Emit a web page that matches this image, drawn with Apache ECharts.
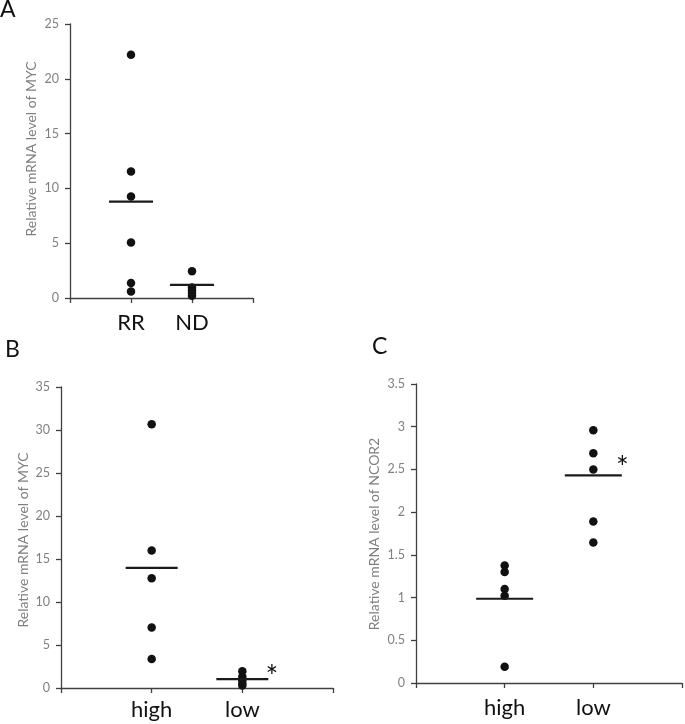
<!DOCTYPE html>
<html><head><meta charset="utf-8">
<script src="https://cdn.jsdelivr.net/npm/echarts@6/dist/echarts.min.js"></script>
<style>html,body{margin:0;padding:0;background:#fff}#c{width:685px;height:724px}</style>
</head><body><div id="c"></div>
<script>
// Panel A
const catsA = ['RR', 'ND'];
const rrA = [22.2, 11.55, 9.27, 5.07, 1.37, 0.6];
const ndA = [2.45, 0.95, 0.7, 0.45, 0.2];
const meanA = [8.79, 1.19];
// Panel B
const catsB = ['high', 'low'];
const highB = [30.66, 16.0, 12.76, 7.03, 3.36];
const lowB = [1.95, 1.3, 0.9, 0.55, 0.3];
const meanB = [13.96, 1.04];
// Panel C
const catsC = ['high', 'low'];
const highC = [1.375, 1.30, 1.10, 1.02, 0.19];
const lowC = [2.96, 2.69, 2.50, 1.89, 1.645];
const meanC = [0.986, 2.43];

const FONT = 'Lato, "Open Sans", sans-serif';
const axisCol = '#404040';
const gray = '#7f7f7f';
const dotCol = '#111';

const grids = [
  {left: 70, top: 24, width: 183, height: 274},
  {left: 61, top: 387, width: 272, height: 301},
  {left: 416, top: 384, width: 268, height: 299}
];

function xAxis(i, cats, margin) {
  return {
    type: 'value', gridIndex: i, min: 0, max: 3, interval: 1,
    splitLine: {show: false},
    axisLine: {show: true, onZero: false, lineStyle: {color: axisCol, width: 1.3}},
    axisTick: {show: true, inside: false, length: 5, lineStyle: {color: axisCol, width: 1.3}},
    axisLabel: {
      margin: margin, fontFamily: FONT, fontSize: 22, color: '#111',
      formatter: v => (v >= 1 && v <= cats.length) ? cats[v - 1] : ''
    }
  };
}
function yAxis(i, max, interval, fmt) {
  return {
    type: 'value', gridIndex: i, min: 0, max: max, interval: interval,
    splitLine: {show: false},
    axisLine: {show: true, lineStyle: {color: axisCol, width: 1.3}},
    axisTick: {show: true, length: 5, lineStyle: {color: axisCol, width: 1.3}},
    axisLabel: {margin: 11, fontFamily: FONT, fontSize: 12.5, color: gray, formatter: fmt}
  };
}
function dots(i, xv, vals) {
  return {
    type: 'scatter', xAxisIndex: i, yAxisIndex: i, symbol: 'circle', symbolSize: 8.5,
    itemStyle: {color: dotCol, opacity: 1}, silent: true, z: 3,
    data: vals.map(v => [xv, v])
  };
}
function means(i, m, w) {
  return {
    type: 'scatter', xAxisIndex: i, yAxisIndex: i, symbol: 'rect', symbolSize: [w, 2.2],
    itemStyle: {color: '#1a1a1a', opacity: 1}, silent: true, z: 4,
    data: m.map((v, k) => [k + 1, v])
  };
}
const titleStyle = t => ({text: t, font: '14px ' + FONT, fill: gray, align: 'center', verticalAlign: 'middle'});

const chart = echarts.init(document.getElementById('c'), null, {renderer: 'canvas'});
chart.setOption({
  animation: false,
  backgroundColor: '#fff',
  grid: grids,
  xAxis: [xAxis(0, catsA, 14), xAxis(1, catsB, 11), xAxis(2, catsC, 14)],
  yAxis: [
    yAxis(0, 25, 5),
    yAxis(1, 35, 5),
    yAxis(2, 3.5, 0.5, v => String(v))
  ],
  series: [
    dots(0, 1, rrA), dots(0, 2, ndA), means(0, meanA, 44),
    dots(1, 1, highB), dots(1, 2, lowB), means(1, meanB, 52),
    dots(2, 1, highC), dots(2, 2, lowC), means(2, meanC, 57)
  ],
  graphic: [
    {type: 'text', left: 0, top: -2, style: {text: 'A', font: '23px ' + FONT, fill: '#111'}},
    {type: 'text', left: 5, top: 338, style: {text: 'B', font: '23px ' + FONT, fill: '#111'}},
    {type: 'text', left: 372, top: 335, style: {text: 'C', font: '23px ' + FONT, fill: '#111'}},
    {type: 'text', x: 31, y: 149, rotation: Math.PI / 2, style: titleStyle('Relative mRNA level of MYC')},
    {type: 'text', x: 23, y: 540, rotation: Math.PI / 2, style: titleStyle('Relative mRNA level of MYC')},
    {type: 'text', x: 374, y: 534, rotation: Math.PI / 2, style: titleStyle('Relative mRNA level of NCOR2')},
    {type: 'text', x: 272, y: 677, style: {text: '*', font: '30px ' + FONT, fill: '#111', align: 'center', verticalAlign: 'middle'}},
    {type: 'text', x: 622.5, y: 468, style: {text: '*', font: '30px ' + FONT, fill: '#111', align: 'center', verticalAlign: 'middle'}}
  ]
});
</script></body></html>
